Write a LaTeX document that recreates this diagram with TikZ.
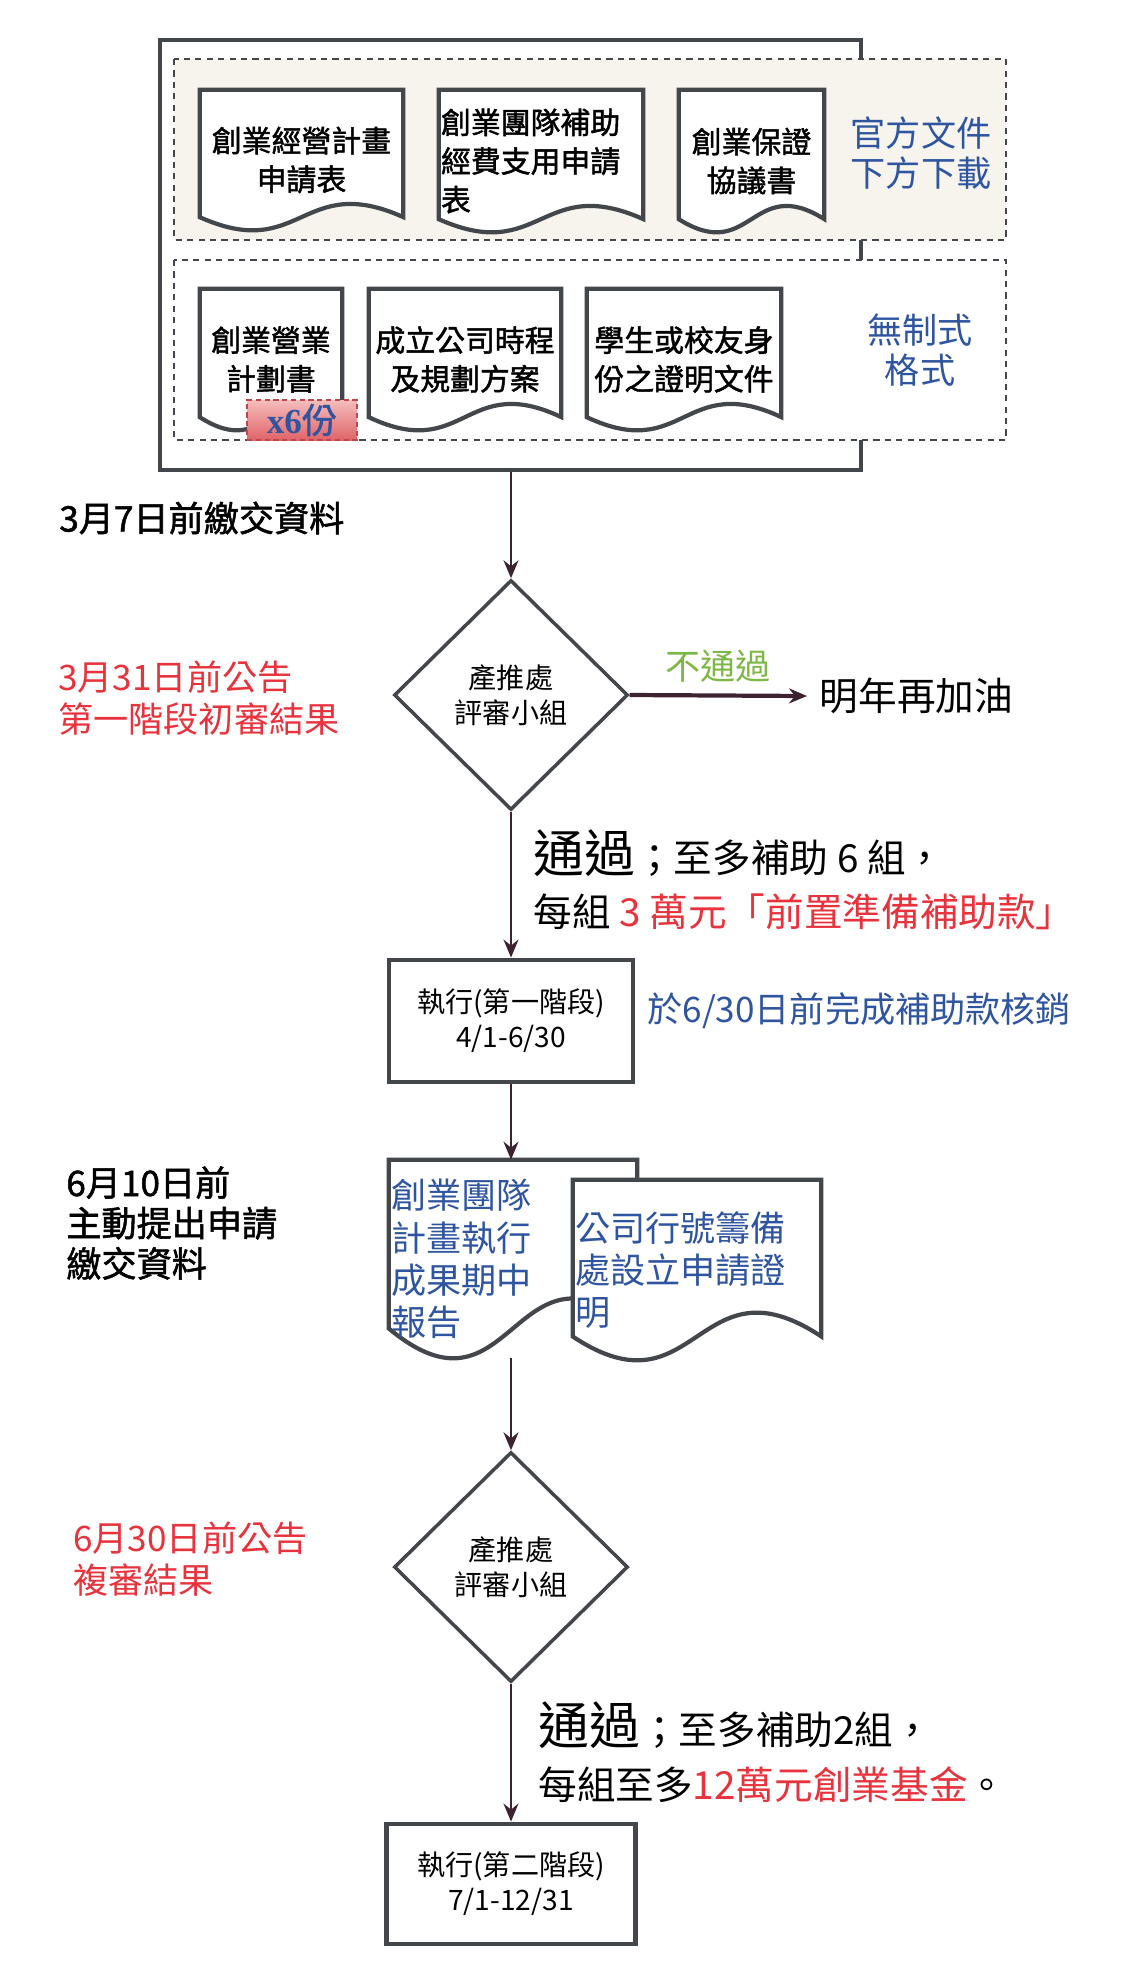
\documentclass[tikz,border=0pt]{standalone}
\usepackage{fontspec}
\setmainfont{Noto Sans CJK TC}[AutoFakeBold=1.5]
\newfontfamily\latinserif{Liberation Serif}
\usetikzlibrary{calc,shapes.geometric,arrows.meta}

\definecolor{frame}{HTML}{43464B}
\definecolor{flowc}{HTML}{3D2331}
\definecolor{noteblue}{HTML}{2F55A0}
\definecolor{notered}{HTML}{E8323C}
\definecolor{failgreen}{HTML}{7CB844}
\definecolor{paper}{HTML}{F6F4EC}
\definecolor{tagtop}{HTML}{F4BDBD}
\definecolor{tagbot}{HTML}{E06468}
\definecolor{tagline}{HTML}{C0444C}

\pgfdeclarelayer{back}
\pgfsetlayers{back,main}

\tikzset{
  doc/.style={rectangle, inner sep=0pt, align=center,
    font=\fontsize{17}{22}\selectfont\bfseries},
  docline/.style={draw=frame, line width=2.4pt, fill=white},
  review/.style={diamond, aspect=1, draw=frame, line width=2pt, inner sep=0pt,
    minimum width=4.68cm, minimum height=4.6cm, align=center,
    font=\fontsize{16}{20}\selectfont},
  execbox/.style={rectangle, draw=frame, line width=2.8pt, inner sep=0pt,
    align=center, font=\fontsize{16}{20}\selectfont},
  flow/.style={draw=flowc, line width=1.4pt,
    -{Stealth[length=3.6mm,width=3mm,inset=1.2mm]}},
  note/.style={inner sep=0pt, align=left, font=\fontsize{20}{23}\selectfont},
  dashbox/.style={draw=frame, line width=1.2pt, dash pattern=on 3.5pt off 3pt},
  tag/.style={rectangle, inner sep=0pt, minimum width=2.2cm, minimum height=0.8cm,
    top color=tagtop, bottom color=tagbot, draw=tagline, line width=1.2pt,
    dash pattern=on 3pt off 2pt, text=noteblue,
    font=\fontsize{20}{20}\selectfont\bfseries},
}

% paper sheet with a wavy lower edge round a node
\newcommand{\docpaper}[2]{%
  \draw[docline] ($(#1.south west)+(0pt,{0.289*#2})$) -- (#1.north west)
    -- (#1.north east) -- ($(#1.south east)+(0pt,{0.289*#2})$)
    .. controls ($(#1.south)+(0pt,{1.289*#2})$) and ($(#1.south)+(0pt,{-0.711*#2})$)
    .. ($(#1.south west)+(0pt,{0.289*#2})$) -- cycle;}

\begin{document}
\begin{tikzpicture}[x=0.02cm, y=-0.02cm]
\useasboundingbox (0,0) rectangle (1145,1981);

	% official forms
	\node[doc, minimum width=4.06cm, minimum height=2.8cm] (plan) at (301.5,160) {創業經營計畫\\申請表};
	\node[doc, align=left, text width=4.0cm, minimum width=4.08cm, minimum height=2.84cm] (budget) at (541,161) {創業團隊補助\\經費支用申請\\表};
	\node[doc, minimum width=2.9cm, minimum height=2.84cm] (pledge) at (751.5,161) {創業保證\\協議書};
	\node[note, align=center, text=noteblue, font=\fontsize{20}{23}\selectfont] (official) at (921,153) {官方文件\\下方下載};

	% free format documents
	\node[doc, minimum width=2.84cm, minimum height=2.82cm] (bizplan) at (271,359.5) {創業營業\\計劃書};
	\node[doc, minimum width=3.84cm, minimum height=2.82cm] (schedule) at (465,359.5) {成立公司時程\\及規劃方案};
	\node[doc, minimum width=3.88cm, minimum height=2.82cm] (identity) at (684,359.5) {學生或校友身\\份之證明文件};
	\node[note, align=center, text=noteblue] (freeform) at (920,350) {無制式\\格式};
	\node[tag] (copies) at (302,420) {{\latinserif x6}份};

	% first round
	\node[note, anchor=west, font=\fontsize{20}{23}\selectfont\bfseries] (due1) at (59,518) {3月7日前繳交資料};
	\node[review] (rev1) at (511,695) {產推處\\評審小組};
	\node[note, anchor=west, text=notered, font=\fontsize{20}{24}\selectfont] (result1) at (58,698) {3月31日前公告\\第一階段初審結果};
	\node[anchor=west, inner sep=0.25cm, font=\fontsize{22}{26}\selectfont] (retry) at (807,696) {明年再加油};
	\node[note, anchor=west, font=\fontsize{22}{31}\selectfont] (pass1) at (533,880) {{\fontsize{29}{31}\selectfont 通過}；至多補助 6 組，\\每組 \textcolor{notered}{3 萬元「前置準備補助款」}};
	\node[execbox, minimum width=4.88cm, minimum height=2.44cm] (exec1) at (511,1021) {執行(第一階段)\\4/1-6/30};
	\node[note, anchor=west, text=noteblue] (settle) at (647,1011) {於6/30日前完成補助款核銷};

	% mid-term documents
	\node[note, anchor=west, font=\fontsize{20}{23}\selectfont\bfseries] (due2) at (66,1223) {6月10日前\\主動提出申請\\繳交資料};
	\node[doc, align=left, text=noteblue, font=\fontsize{20}{24}\selectfont, text width=4.88cm, minimum width=4.96cm, minimum height=3.96cm] (midrep) at (513,1259) {創業團隊\\計畫執行\\成果期中\\報告};
	\node[doc, align=left, text=noteblue, font=\fontsize{20}{24}\selectfont, text width=4.88cm, minimum width=4.96cm, minimum height=3.6cm] (permit) at (697,1270) {公司行號籌備\\處設立申請證\\明};

	% second round
	\node[review] (rev2) at (511,1567) {產推處\\評審小組};
	\node[note, anchor=west, text=notered, font=\fontsize{20}{24}\selectfont] (result2) at (73,1559) {6月30日前公告\\複審結果};
	\node[note, anchor=west, font=\fontsize{22}{31}\selectfont] (pass2) at (538,1752) {{\fontsize{29}{31}\selectfont 通過}；至多補助2組，\\每組至多\textcolor{notered}{12萬元創業基金}。};
	\node[execbox, minimum width=4.98cm, minimum height=2.4cm] (exec2) at (511,1884) {執行(第二階段)\\7/1-12/31};

	% frames and paper sheets
	\begin{pgfonlayer}{back}
		\node[draw=frame, line width=2.3pt, inner sep=0pt, minimum width=14.02cm, minimum height=8.6cm] (inbox) at (510.5,255) {};
		\draw[dashbox, fill=paper] (174,59) rectangle (1006,240);
		\draw[dashbox, fill=white] (174,260) rectangle (1006,440);
		\docpaper{plan}{26pt}
		\docpaper{budget}{26pt}
		\docpaper{pledge}{26pt}
		\docpaper{bizplan}{26pt}
		\docpaper{schedule}{26pt}
		\docpaper{identity}{26pt}
		\docpaper{midrep}{59pt}
		\docpaper{permit}{47pt}
	\end{pgfonlayer}

	% connectors
	\draw[flow] (inbox.south -| rev1.north) -- (rev1.north);
	\draw[flow, line width=2.4pt] (rev1.east) -- node[above=3pt, text=failgreen, font=\fontsize{20}{23}\selectfont] (fail) {不通過} (retry.west);
	\draw[flow] (rev1.south) -- (exec1.north);
	\draw[flow] (exec1.south) -- (exec1.south |- midrep.north);
	\draw[flow] (rev2.north |- midrep.south) -- (rev2.north);
	\draw[flow] (rev2.south) -- (exec2.north);
\end{tikzpicture}
\end{document}
